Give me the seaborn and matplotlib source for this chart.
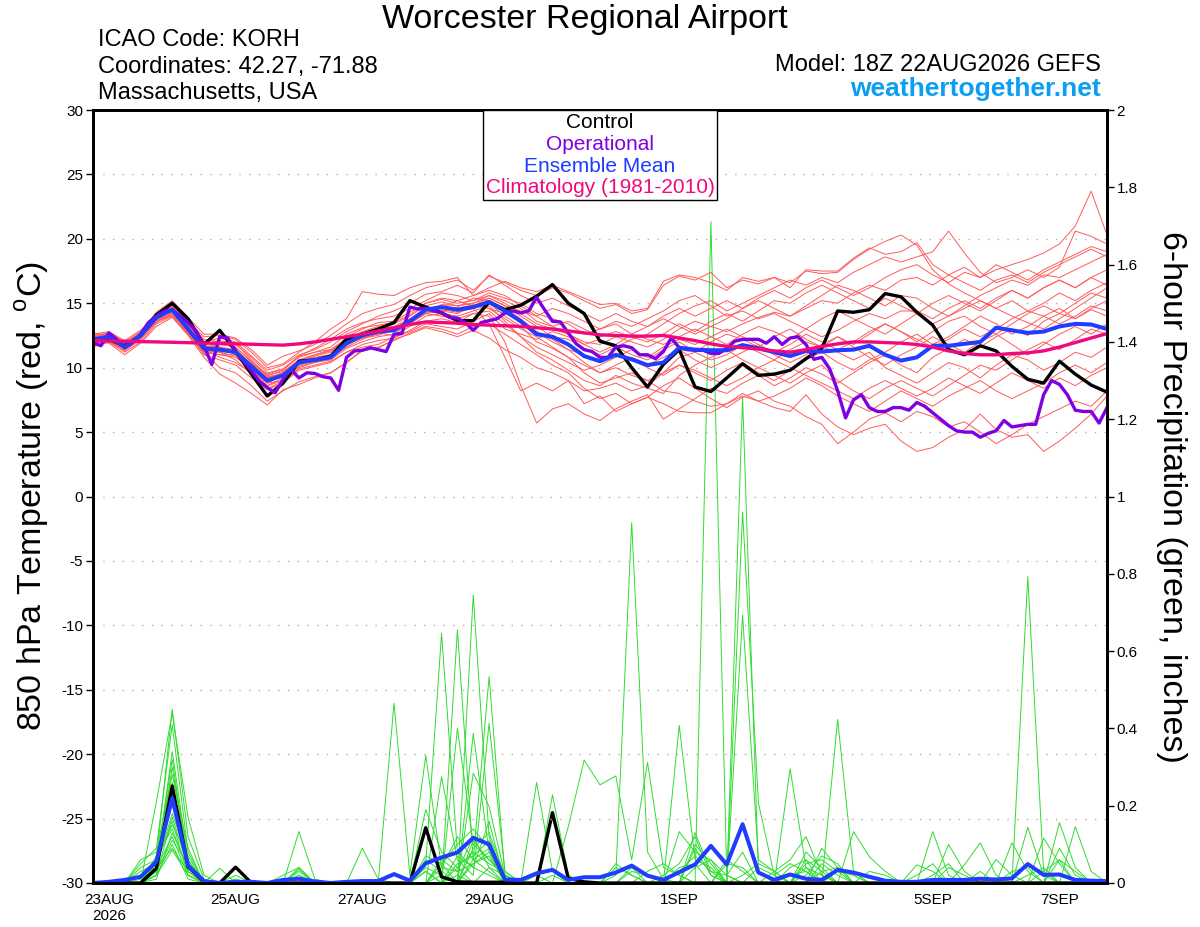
import numpy as np
import pandas as pd
import seaborn as sns
import matplotlib
matplotlib.use("Agg")
import matplotlib.pyplot as plt
from matplotlib.offsetbox import TextArea, VPacker, AnchoredOffsetbox

sns.set_theme(style="white")
plt.rcParams['font.family'] = ['Liberation Sans', 'DejaVu Sans']
plt.rcParams['axes.unicode_minus'] = False
for key in ['text.color', 'axes.labelcolor', 'xtick.color', 'ytick.color', 'axes.edgecolor']:
    plt.rcParams[key] = 'black'

# GEFS run 18Z 22AUG2026, 6-hourly out to 16 days (operational 3-hourly)
times = pd.date_range('2026-08-22 18:00', periods=65, freq='6h')
times_op = pd.date_range('2026-08-22 18:00', periods=129, freq='3h')

tick_dates = pd.to_datetime(['2026-08-23', '2026-08-25', '2026-08-27', '2026-08-29',
                             '2026-09-01', '2026-09-03', '2026-09-05', '2026-09-07'])
tick_labels = ['23AUG\n2026', '25AUG', '27AUG', '29AUG', '1SEP', '3SEP', '5SEP', '7SEP']

# 850 hPa temperature (C)
ens_mean = [12.2,12.4,11.6,12.5,13.9,14.5,13.0,11.5,11.4,11.2,10.1,9.0,9.4,
            10.4,10.6,10.8,11.9,12.5,12.8,12.9,13.6,14.5,14.7,14.5,14.7,15.1,
            14.4,13.6,12.6,12.4,11.8,10.9,10.5,11.0,10.65,10.2,10.4,11.55,11.4,
            11.35,11.35,11.75,11.5,11.2,10.9,11.3,11.25,11.35,11.4,11.7,11.0,10.55,
            10.8,11.7,11.7,11.85,12.0,13.1,12.9,12.7,12.8,13.2,13.4,13.35,13.0]

control = [12.1,12.2,11.7,12.5,14.1,15.0,13.8,11.8,12.9,11.3,9.5,7.8,8.8,
           10.5,10.6,10.9,12.2,12.6,13.0,13.5,15.2,14.7,14.25,13.65,13.65,15.1,
           14.5,14.85,15.55,16.45,15.0,14.2,12.05,11.7,10.0,8.5,10.25,11.4,8.5,
           8.15,9.2,10.3,9.4,9.5,9.8,10.7,11.5,14.4,14.3,14.5,15.75,15.5,
           14.3,13.3,11.4,11.0,11.7,11.3,10.1,9.1,8.8,10.5,9.5,8.65,8.1]

climatology = [12.1,12.08,12.05,12.02,12.0,11.97,11.94,11.91,11.88,11.85,11.82,11.78,11.75,
               11.85,12.0,12.2,12.4,12.6,12.85,13.1,13.35,13.55,13.5,13.45,13.35,13.3,
               13.25,13.2,13.1,13.0,12.85,12.7,12.55,12.5,12.45,12.45,12.5,12.3,12.1,
               11.85,11.65,11.55,11.45,11.3,11.2,11.4,11.65,11.85,12.0,12.0,11.95,11.9,
               11.8,11.6,11.3,11.1,11.0,11.0,11.1,11.15,11.3,11.6,11.95,12.3,12.65]

operational = [11.95,11.7,12.7,12.2,11.55,11.95,12.6,13.5,14.0,14.4,
               14.5,14.0,13.5,12.85,11.7,10.25,12.4,12.3,11.3,10.5,
               9.75,8.95,8.45,8.05,9.1,9.85,9.2,9.6,9.55,9.3,
               9.2,8.25,10.8,11.3,11.35,11.55,11.4,11.25,12.6,12.65,
               14.7,14.55,14.6,
               14.4,14.25,13.9,13.85,13.5,12.9,13.5,13.65,13.8,14.25,
               14.4,14.25,14.4,15.45,14.5,13.6,13.55,12.7,11.85,11.4,
               11.25,10.8,10.8,11.6,11.7,11.55,11.0,11.0,10.7,11.25,
               12.3,11.55,11.4,11.35,11.35,11.1,11.1,11.5,12.05,12.2,
               12.2,12.2,
               11.9,12.4,11.8,12.3,12.4,11.8,10.65,10.8,9.9,8.2,
               6.1,7.5,7.9,6.9,6.6,6.6,6.9,6.9,6.7,7.3,
               7.0,6.5,6.0,5.5,5.1,5.0,5.0,4.6,4.9,5.1,
               5.9,5.4,5.5,5.6,5.6,7.9,9.0,8.7,7.9,6.7,
               6.6,6.6,5.7,6.9]

temp_members = [
    [12.4,12.6,11.9,12.7,14.2,14.9,13.5,12.2,12.0,11.8,10.8,9.6,9.9,
     10.8,11.2,11.6,12.6,13.1,13.3,13.5,14.1,15.0,15.3,15.0,15.2,15.6,
     15.0,14.2,13.4,13.0,12.6,12.0,11.8,12.4,12.0,11.6,12.2,13.0,13.6,
     13.2,12.8,13.4,13.9,14.3,14.0,14.6,15.2,15.0,15.8,16.4,16.0,16.8,
     17.0,16.4,17.2,17.8,17.0,17.6,18.0,18.4,18.9,19.6,21.0,23.7,20.3],
    [11.8,12.1,11.3,12.2,13.6,14.1,12.8,11.0,10.6,10.2,9.2,8.3,8.8,
     9.8,10.1,10.4,11.2,11.8,12.1,12.3,12.9,13.6,13.8,13.5,14.2,14.0,
     12.0,8.6,5.7,6.8,7.2,6.4,5.9,6.8,7.4,7.9,6.0,6.8,7.6,
     8.4,8.0,8.8,9.4,8.6,9.2,10.0,9.5,8.8,9.6,10.4,11.0,10.2,
     9.6,10.8,11.5,12.2,11.6,12.4,13.0,12.5,13.6,14.2,13.8,14.5,14.0],
    [12.5,12.7,12.0,12.8,14.3,15.2,13.9,12.6,12.6,12.3,11.4,10.2,10.9,
     11.3,11.8,12.5,13.4,14.2,14.6,14.9,15.6,16.2,16.5,16.8,16.0,17.1,
     16.6,16.0,15.6,16.2,15.8,15.2,14.6,14.9,14.2,14.5,16.4,17.1,16.8,
     17.4,16.2,16.8,16.5,17.0,16.6,17.5,17.3,17.4,18.4,19.2,19.8,20.3,
     19.5,17.6,16.5,15.8,15.2,14.6,14.0,13.5,13.0,13.8,14.6,15.4,16.2],
    [12.0,12.3,11.5,12.4,13.8,14.4,12.9,11.3,11.0,10.8,9.9,8.8,9.0,
     10.1,10.4,10.6,11.5,12.0,12.4,12.6,13.4,14.4,14.9,14.8,15.0,15.4,
     14.8,14.0,13.2,12.4,12.2,11.5,11.0,11.6,12.2,12.6,13.4,14.2,14.8,
     15.2,14.4,15.0,15.6,16.2,16.8,16.4,17.0,16.6,17.4,18.0,18.6,18.2,
     18.6,19.0,20.6,18.9,17.4,16.6,17.0,17.6,17.0,17.8,20.6,20.2,19.6],
    [12.3,12.5,11.7,12.5,13.8,14.6,13.1,11.6,11.2,10.9,9.8,8.6,9.2,
     10.3,10.5,10.9,12.0,12.6,12.9,12.8,13.5,14.3,14.5,14.3,14.6,15.0,
     14.0,13.2,12.0,11.5,10.8,9.6,8.8,9.2,9.6,9.0,8.2,8.0,7.4,
     7.0,7.2,7.8,7.4,6.9,6.6,7.9,6.4,5.4,4.8,5.3,5.6,4.3,
     3.5,3.8,4.6,5.2,6.4,5.2,4.6,4.8,3.5,4.3,5.3,6.4,7.8],
    [12.1,12.2,11.4,12.3,13.6,14.2,12.7,11.2,10.0,9.6,8.6,7.4,8.2,
     8.9,9.3,9.6,10.4,11.4,11.6,12.1,12.7,13.2,13.0,12.6,13.2,13.4,
     12.6,11.8,11.0,10.2,9.6,8.4,7.6,8.0,7.2,7.7,8.6,9.2,8.4,
     7.6,6.9,7.7,8.2,7.4,7.0,6.2,5.6,4.1,5.0,6.0,6.5,5.8,
     6.6,6.2,5.4,5.8,5.0,4.1,4.8,5.6,6.2,6.8,7.4,7.0,8.2],
    [12.6,12.8,12.1,12.9,14.0,14.7,13.3,11.8,12.1,11.9,10.6,9.4,9.8,
     10.9,11.5,12.2,13.0,13.5,13.8,14.0,14.6,15.2,15.8,15.6,15.2,15.8,
     15.4,15.0,14.2,13.8,13.4,12.6,13.0,13.6,13.2,13.8,14.4,15.2,15.6,
     14.8,14.0,14.4,13.8,14.2,13.6,13.0,12.4,12.9,13.6,14.2,13.8,14.4,
     14.4,13.8,14.6,15.2,14.6,15.4,16.0,15.4,16.2,16.8,16.2,17.0,16.4],
    [11.6,12.0,11.2,12.0,13.4,14.0,12.6,11.0,11.5,11.4,10.2,9.2,9.6,
     10.6,10.8,11.0,11.8,12.3,12.6,12.9,13.6,14.6,14.4,14.7,15.4,15.2,
     14.6,13.8,12.8,12.2,11.4,10.4,9.6,10.0,9.4,9.0,9.6,10.8,11.2,
     10.6,11.0,11.8,11.2,10.6,11.4,12.0,11.6,11.2,10.6,11.2,10.0,9.4,
     8.8,9.6,10.4,10.0,9.2,10.2,11.0,10.6,9.8,10.4,11.2,10.8,11.6],
    [12.2,12.4,11.8,12.6,14.1,14.6,13.2,11.6,11.8,11.6,10.5,9.3,9.5,
     10.5,10.7,10.8,11.6,12.2,12.7,12.5,13.2,14.0,14.2,14.0,14.4,14.8,
     13.6,12.4,11.2,10.6,9.8,9.0,8.6,9.4,8.8,8.4,8.0,9.4,10.2,
     10.8,11.4,10.6,10.0,9.4,8.8,9.6,10.2,9.0,8.2,7.6,8.4,9.0,
     8.4,7.8,8.6,9.4,10.2,9.8,10.6,11.4,12.0,11.4,12.2,13.0,12.6],
    [12.7,12.5,11.9,12.6,14.0,14.8,13.6,12.4,12.5,12.2,11.2,10.0,10.3,
     11.2,12.0,13.0,13.8,15.9,15.7,15.6,16.2,16.6,16.7,17.0,15.6,16.2,
     16.7,16.2,15.9,16.4,15.9,15.4,14.9,15.0,14.4,14.6,16.7,17.2,17.0,
     16.6,16.0,17.0,16.7,17.0,16.2,17.6,17.5,17.5,18.5,19.3,18.8,19.0,
     19.7,18.0,17.2,16.6,16.0,16.8,17.2,16.6,17.4,18.0,18.6,19.2,18.6],
    [11.9,12.1,11.5,12.2,13.5,14.3,12.9,11.4,11.2,10.6,9.5,8.4,8.9,
     9.9,10.2,10.5,11.2,11.6,11.8,12.4,12.8,13.4,13.2,13.0,13.6,14.2,
     13.0,12.6,12.2,12.8,12.4,11.8,12.2,11.6,11.0,10.6,11.4,12.0,11.2,
     12.0,12.6,12.2,11.6,12.4,13.0,12.2,11.6,12.4,11.8,12.6,13.4,12.8,
     12.0,12.8,13.6,14.0,13.2,12.6,13.4,14.2,14.8,14.2,15.0,15.8,15.4],
    [12.0,11.9,11.0,11.9,13.2,13.9,12.5,10.8,9.5,8.8,8.0,7.1,8.3,
     8.7,9.2,9.6,10.4,11.3,11.5,12.2,12.6,13.1,12.8,12.4,12.9,12.3,
     11.4,10.8,10.0,9.6,9.0,8.2,8.4,8.8,8.2,8.6,9.6,10.2,9.6,
     9.0,9.8,10.4,9.6,9.0,9.8,10.6,11.2,10.4,9.8,10.6,11.2,12.0,
     12.6,11.8,12.4,13.2,14.0,13.4,12.6,13.2,14.0,14.6,13.8,14.6,15.2],
    [12.3,12.6,11.7,12.4,13.7,14.4,12.9,11.5,11.6,11.0,10.2,9.0,9.6,
     10.6,11.0,11.4,12.2,12.8,13.2,13.4,14.0,14.8,15.1,14.8,15.0,15.6,
     15.2,14.6,13.6,13.2,13.6,13.0,12.4,12.8,12.4,12.0,12.6,13.4,12.8,
     13.6,14.2,13.6,14.4,15.2,15.0,15.8,16.4,15.8,15.2,14.6,15.4,14.8,
     14.2,13.4,14.0,14.8,15.6,16.2,16.8,16.4,17.2,17.0,17.6,18.2,18.8],
    [12.4,12.3,11.6,12.6,14.0,14.4,12.8,11.4,10.8,10.4,9.6,8.6,9.0,
     10.0,10.4,10.7,11.8,12.4,12.9,12.9,13.8,14.6,14.4,14.2,14.8,14.6,
     13.8,13.0,12.4,11.6,10.8,10.2,9.6,10.2,10.8,10.2,10.8,11.4,10.6,
     10.0,10.6,11.2,11.8,11.0,10.4,11.0,11.8,12.4,11.6,10.8,10.2,11.0,
     11.6,12.4,11.8,11.2,12.0,12.6,11.8,11.0,11.8,12.6,13.2,12.6,13.4],
    [11.9,12.2,11.4,12.4,13.8,14.6,13.4,12.0,11.9,11.6,10.4,9.4,9.7,
     10.6,11.0,11.3,12.0,12.3,12.5,13.0,13.4,14.2,14.7,15.2,14.8,15.4,
     14.8,14.4,14.0,14.6,14.2,13.6,13.0,13.4,12.6,12.2,11.8,12.4,13.0,
     12.4,11.8,12.6,13.2,12.8,12.2,13.0,13.8,14.4,13.8,13.2,12.6,13.4,
     14.2,15.0,15.6,15.0,14.4,15.2,16.0,15.4,16.2,16.8,16.2,17.0,17.6],
    [12.1,12.3,11.6,12.4,13.9,14.5,13.0,11.4,11.2,11.3,10.0,9.1,9.3,
     10.2,10.5,11.0,11.7,12.4,12.8,13.0,13.6,14.4,14.6,14.4,14.6,13.4,
     10.8,8.2,8.8,8.2,9.0,7.2,7.8,6.6,7.2,7.7,7.2,6.6,6.5,
     6.5,7.2,8.0,7.4,7.8,8.4,9.2,8.6,7.8,7.2,6.6,7.4,8.2,
     7.6,7.0,7.8,8.4,9.0,8.2,7.6,8.2,8.8,9.6,10.2,9.6,10.4],
    [12.2,12.5,11.7,12.3,13.7,14.2,12.7,11.2,11.0,11.0,9.8,8.8,9.4,
     10.4,10.6,10.8,11.9,12.6,13.0,12.8,13.5,14.2,14.4,14.6,14.9,14.6,
     14.2,13.6,12.8,12.0,11.4,11.0,10.4,11.0,10.6,10.0,9.4,10.2,9.8,
     9.2,8.6,9.2,10.0,10.6,10.0,9.4,8.8,8.2,7.6,8.4,9.0,8.4,
     7.8,8.4,9.2,8.6,8.0,8.8,9.6,9.0,8.4,9.2,8.6,9.4,10.0],
    [12.5,12.6,11.8,12.7,14.2,14.9,13.5,12.0,12.3,12.0,10.9,9.8,10.2,
     11.0,11.4,12.0,12.8,13.4,14.0,14.4,15.0,15.7,15.9,16.4,15.8,17.2,
     16.4,15.6,15.0,15.4,14.8,14.2,13.6,14.2,13.6,13.2,14.0,14.6,14.0,
     14.6,15.2,14.6,15.4,16.0,15.4,16.2,16.8,16.2,15.6,16.2,17.0,17.6,
     18.0,17.2,16.6,17.4,17.0,18.0,17.4,16.8,17.6,18.2,18.8,19.4,19.0],
    [11.7,12.0,11.4,12.3,13.6,14.0,12.6,11.2,11.4,11.3,10.3,9.5,9.9,
     10.9,11.2,11.4,12.2,12.7,13.0,13.2,13.8,14.2,14.0,13.8,14.2,14.4,
     13.4,12.4,11.6,11.0,10.4,9.8,10.2,10.8,11.4,10.8,11.6,12.2,11.8,
     12.4,13.0,12.4,11.8,11.2,11.8,12.6,12.0,11.4,12.0,12.8,13.4,12.8,
     12.2,11.6,12.2,13.0,12.4,13.0,13.8,14.4,14.0,13.4,14.0,14.8,14.4],
    [12.0,12.4,11.6,12.6,14.0,14.7,13.2,11.7,11.6,11.4,10.3,9.2,9.6,
     10.5,10.9,11.2,12.4,13.0,13.5,13.6,14.3,15.0,15.4,15.2,15.6,16.0,
     15.6,14.8,14.0,13.2,12.6,11.8,11.2,11.8,12.6,13.2,13.8,13.2,12.6,
     13.2,13.8,14.6,15.2,14.6,14.0,14.8,15.6,16.4,16.0,15.4,14.8,15.6,
     15.4,14.6,14.0,14.6,15.2,14.6,15.2,14.4,15.0,15.8,15.2,16.0,16.6],
]

# 6-hour precipitation (inches)
precip_mean = [0,.003,.008,.016,.055,.219,.045,.005,0,.003,.003,0,.008,
               .011,.004,0,.003,.005,.005,.023,.006,.051,.066,.079,.117,.10,
               .009,.008,.025,.034,.008,.015,.015,.027,.045,.019,.008,.028,.048,
               .096,.048,.152,.027,.008,.022,.011,.008,.034,.027,.016,.006,.003,
               .003,.008,.008,.008,.011,.009,.012,.049,.021,.022,.008,.006,.005]

precip_control = [0,0,0,0,.038,.251,.042,.003,0,.041,0,0,0,
                  0,0,0,0,0,0,0,0,.143,.016,.003,.002,.002,
                  .002,0,0,.182,.012,.003,0,0,0,0,0,0,0,
                  0,0,0,0,0,0,0,0,0,0,0,0,0,
                  0,0,0,0,0,0,0,0,0,0,0,0,0]

# members: {6-hour step: amount}, dry otherwise
precip_members = [
    {3:.02, 4:.06, 5:.45, 6:.12, 7:.01, 21:.05, 22:.646, 23:.08, 24:.04, 25:.02, 39:1.711, 40:.02, 41:.08, 44:.02, 45:.03, 59:.144, 60:.02},
    {4:.21, 5:.44, 6:.17, 7:.02, 13:.03, 23:.655, 24:.06, 25:.03, 28:.02, 34:.04, 41:1.256, 42:.03, 46:.05, 47:.02, 61:.156, 62:.04},
    {3:.05, 4:.09, 5:.41, 6:.08, 13:.133, 14:.01, 24:.745, 25:.12, 26:.01, 33:.02, 34:.932, 35:.08, 36:.01, 45:.06, 46:.03, 59:.793, 60:.03},
    {4:.04, 5:.34, 6:.06, 9:.01, 19:.465, 20:.02, 21:.33, 22:.04, 23:.12, 24:.06, 25:.534, 26:.02, 37:.408, 38:.06, 39:.04, 53:.133, 54:.02},
    {3:.03, 4:.05, 5:.32, 6:.04, 22:.275, 23:.06, 24:.02, 25:.413, 26:.03, 41:.96, 42:.207, 43:.02, 55:.047, 56:.104, 57:.02},
    {4:.03, 5:.30, 6:.05, 8:.038, 23:.40, 24:.10, 25:.06, 26:.02, 41:.693, 42:.06, 43:.03, 48:.133, 49:.068, 50:.03},
    {3:.06, 4:.08, 5:.28, 6:.09, 24:.387, 25:.08, 30:.146, 31:.318, 32:.254, 33:.277, 34:.06, 35:.312, 36:.04, 37:.02, 44:.295, 45:.04},
    {4:.02, 5:.26, 6:.03, 12:.02, 13:.04, 24:.284, 25:.198, 26:.02, 28:.26, 29:.03, 38:.13, 39:.03, 47:.423, 48:.03, 58:.104, 59:.03},
    {4:.03, 5:.22, 6:.05, 17:.09, 18:.01, 21:.19, 22:.08, 23:.04, 29:.228, 30:.02, 37:.133, 38:.08, 39:.06, 54:.10, 55:.03, 62:.146, 63:.03},
    {3:.02, 4:.04, 5:.18, 6:.06, 22:.05, 23:.10, 24:.14, 25:.09, 26:.01, 36:.02, 37:.05, 38:.12, 39:.02, 45:.08, 46:.04, 52:.047, 53:.03, 61:.09, 62:.02},
    {4:.02, 5:.17, 6:.04, 13:.035, 21:.06, 22:.03, 24:.09, 25:.13, 26:.02, 40:.05, 41:.04, 43:.03, 44:.06, 45:.12, 46:.02, 60:.116, 61:.05},
    {4:.05, 5:.16, 6:.02, 21:.03, 23:.05, 24:.07, 25:.11, 33:.04, 34:.02, 38:.10, 39:.05, 45:.02, 46:.07, 47:.05, 57:.061, 58:.02},
    {3:.04, 4:.06, 5:.15, 6:.07, 13:.02, 22:.06, 23:.03, 24:.05, 25:.08, 37:.03, 38:.07, 39:.03, 40:.02, 46:.09, 47:.04, 48:.02, 53:.02, 54:.05},
    {4:.07, 5:.14, 6:.03, 21:.04, 22:.02, 24:.11, 25:.06, 26:.02, 42:.04, 43:.02, 44:.05, 45:.03, 58:.03, 59:.04},
    {4:.01, 5:.13, 6:.04, 9:.02, 23:.07, 24:.04, 25:.16, 35:.03, 36:.05, 37:.02, 45:.05, 46:.06, 47:.03, 61:.06, 62:.03},
    {3:.01, 4:.04, 5:.12, 6:.02, 22:.04, 23:.03, 24:.12, 25:.04, 34:.03, 35:.02, 38:.09, 39:.02, 44:.04, 45:.06, 49:.03, 50:.02},
    {4:.03, 5:.11, 6:.05, 13:.04, 21:.07, 22:.05, 24:.06, 25:.09, 29:.02, 40:.06, 41:.03, 46:.03, 47:.04, 60:.03, 61:.06},
    {4:.02, 5:.10, 6:.01, 23:.04, 24:.08, 25:.05, 26:.03, 33:.05, 34:.02, 37:.04, 38:.05, 52:.02, 53:.05, 56:.03},
    {4:.04, 5:.09, 6:.03, 13:.02, 22:.02, 24:.05, 25:.07, 38:.04, 39:.06, 40:.02, 47:.03, 48:.02, 59:.02, 60:.04},
    {4:.02, 5:.085, 6:.02, 21:.03, 23:.02, 25:.04, 26:.02, 41:.02, 42:.05, 43:.03, 45:.04, 46:.02, 54:.04, 55:.02},
]

legend_labels = ['Control', 'Operational', 'Ensemble Mean', 'Climatology (1981-2010)']

c_member_t = '#ff5a5a'
c_member_p = '#2fdc2f'
c_oper = '#7f00e0'
c_mean = '#1f3cff'
c_clim = '#f0087e'
legend_colors = ['black', c_oper, c_mean, c_clim]

# long tables for the member spaghetti
temp_df = pd.DataFrame([(m, t, v) for m, vals in enumerate(temp_members)
                        for t, v in zip(times, vals)], columns=['member', 'time', 'temp'])
precip_df = pd.DataFrame([(m, t, pm.get(i, 0.0)) for m, pm in enumerate(precip_members)
                          for i, t in enumerate(times)], columns=['member', 'time', 'precip'])

fig = plt.figure(figsize=(12, 9.27), dpi=100)
ax = fig.add_axes([93/1200, 44/927, 1014/1200, 773/927])
ax2 = ax.twinx()
ax.set_zorder(ax2.get_zorder() + 1)
ax.patch.set_visible(False)

# precipitation (right axis)
sns.lineplot(data=precip_df, x='time', y='precip', units='member', estimator=None,
             color=c_member_p, lw=0.7, ax=ax2, legend=False)
sns.lineplot(x=times, y=precip_control, color='black', lw=2.4, ax=ax2)
sns.lineplot(x=times, y=precip_mean, color=c_mean, lw=2.9, ax=ax2)

# temperature (left axis)
sns.lineplot(data=temp_df, x='time', y='temp', units='member', estimator=None,
             color=c_member_t, lw=0.7, ax=ax, legend=False)
sns.lineplot(x=times, y=control, color='black', lw=2.4, ax=ax)
sns.lineplot(x=times_op, y=operational, color=c_oper, lw=2.4, ax=ax)
sns.lineplot(x=times, y=ens_mean, color=c_mean, lw=2.9, ax=ax)
sns.lineplot(x=times, y=climatology, color=c_clim, lw=2.4, ax=ax)

ax.set_xlim(times[0], times[-1])
ax.set_ylim(-30, 30)
ax.set_yticks(range(-30, 31, 5))
ax2.set_ylim(0, 2)
p_ticks = np.round(np.arange(0, 2.01, 0.2), 1)
ax2.set_yticks(p_ticks)
ax2.set_yticklabels([f'{v:g}' for v in p_ticks])
ax.set_xticks(tick_dates)
ax.set_xticklabels(tick_labels)
for a in (ax, ax2):
    a.set_xlabel('')
    a.set_ylabel('')
    a.tick_params(direction='out', length=5, width=1, labelsize=11, colors='black', pad=2)
    for s in a.spines.values():
        s.set_linewidth(2.0)
        s.set_color('black')
ax.grid(axis='y', color='#b0b0b0', linestyle=(0, (1, 6)), lw=1)
ax.grid(axis='x', visible=False)
ax2.grid(False)

# legend box with coloured entries
items = [TextArea(lab, textprops=dict(color=c, fontsize=15)) for lab, c in zip(legend_labels, legend_colors)]
pack = VPacker(children=items, align='center', pad=0, sep=2)
box = AnchoredOffsetbox(loc='upper center', child=pack, pad=0.2, borderpad=0, frameon=True,
                        bbox_to_anchor=(0.5, 1.0), bbox_transform=ax.transAxes)
box.patch.set_boxstyle('square,pad=0')
box.patch.set_edgecolor('black')
box.patch.set_linewidth(1)
box.set_zorder(10)
ax.add_artist(box)

# header texts
fig.text(585/1200, 1 - 28/927, 'Worcester Regional Airport', ha='center', va='baseline', fontsize=24.5)
fig.text(98/1200, 1 - 46/927, 'ICAO Code: KORH', ha='left', va='baseline', fontsize=17)
fig.text(98/1200, 1 - 72.5/927, 'Coordinates: 42.27, -71.88', ha='left', va='baseline', fontsize=17)
fig.text(98/1200, 1 - 99/927, 'Massachusetts, USA', ha='left', va='baseline', fontsize=17)
fig.text(1101/1200, 1 - 71/927, 'Model: 18Z 22AUG2026 GEFS', ha='right', va='baseline', fontsize=17)
fig.text(1101/1200, 1 - 96/927, 'weathertogether.net', ha='right', va='baseline', fontsize=19,
         fontweight='bold', color='#0a9ff2')

fig.text(32/1200, 1 - 496.5/927, r'850 hPa Temperature (red, $^{\mathregular{o}}$C)', rotation=90,
         ha='center', va='center', fontsize=24.5)
fig.text(1172/1200, 1 - 496.5/927, '6-hour Precipitation (green, inches)', rotation=270,
         ha='center', va='center', fontsize=24.5)

fig.savefig('out.png', dpi=100)
